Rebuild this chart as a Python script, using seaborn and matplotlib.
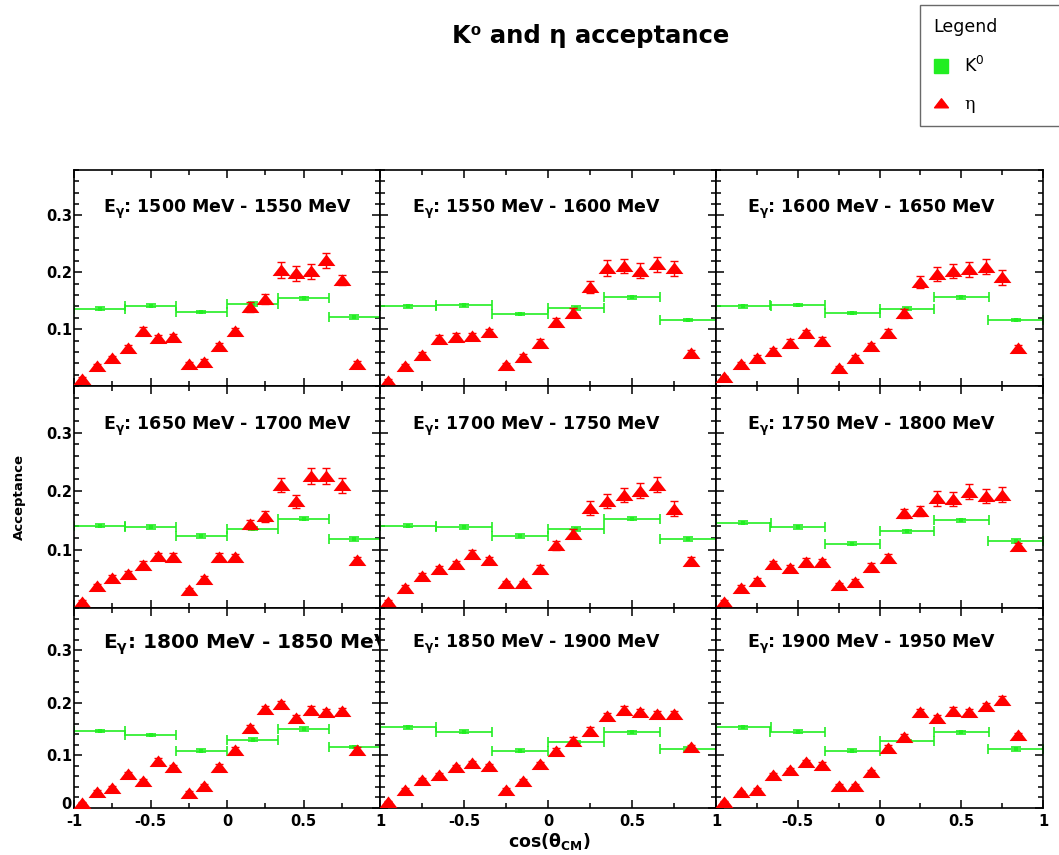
import matplotlib
matplotlib.use("Agg")
import matplotlib.pyplot as plt
import seaborn as sns
import pandas as pd
from matplotlib.path import Path
from matplotlib.lines import Line2D
from matplotlib.ticker import MultipleLocator

# ---------------- data ----------------
energy_bins = [
    "1500 MeV - 1550 MeV", "1550 MeV - 1600 MeV", "1600 MeV - 1650 MeV",
    "1650 MeV - 1700 MeV", "1700 MeV - 1750 MeV", "1750 MeV - 1800 MeV",
    "1800 MeV - 1850 MeV", "1850 MeV - 1900 MeV", "1900 MeV - 1950 MeV",
]

# cos(theta_CM) bin centres
eta_cos = [-0.95, -0.85, -0.75, -0.65, -0.55, -0.45, -0.35, -0.25, -0.15, -0.05,
           0.05, 0.15, 0.25, 0.35, 0.45, 0.55, 0.65, 0.75, 0.85]
k0_cos = [-0.8333, -0.5, -0.1667, 0.1667, 0.5, 0.8333]
k0_half_width = [0.1667, 0.1667, 0.1667, 0.1667, 0.1667, 0.1667]

# eta acceptance per photon-energy bin
eta_1500 = [0.012, 0.035, 0.049, 0.067, 0.097, 0.084, 0.086, 0.038, 0.043, 0.070,
            0.096, 0.139, 0.153, 0.204, 0.198, 0.202, 0.221, 0.187, 0.039]
eta_1550 = [0.009, 0.035, 0.055, 0.083, 0.087, 0.088, 0.095, 0.037, 0.051, 0.076,
            0.112, 0.129, 0.174, 0.207, 0.211, 0.203, 0.214, 0.207, 0.058]
eta_1600 = [0.015, 0.039, 0.049, 0.062, 0.076, 0.093, 0.080, 0.031, 0.050, 0.070,
            0.094, 0.128, 0.183, 0.197, 0.202, 0.205, 0.210, 0.191, 0.066]
eta_1650 = [0.010, 0.037, 0.051, 0.058, 0.074, 0.089, 0.088, 0.030, 0.049, 0.088,
            0.087, 0.143, 0.157, 0.211, 0.183, 0.226, 0.226, 0.210, 0.082]
eta_1700 = [0.010, 0.035, 0.055, 0.067, 0.075, 0.093, 0.082, 0.042, 0.042, 0.067,
            0.107, 0.127, 0.171, 0.183, 0.194, 0.201, 0.211, 0.170, 0.081]
eta_1750 = [0.010, 0.035, 0.047, 0.075, 0.068, 0.079, 0.078, 0.039, 0.045, 0.071,
            0.086, 0.162, 0.166, 0.188, 0.186, 0.199, 0.191, 0.194, 0.106]
eta_1800 = [0.009, 0.031, 0.038, 0.065, 0.052, 0.090, 0.077, 0.029, 0.042, 0.078,
            0.110, 0.152, 0.188, 0.198, 0.171, 0.187, 0.183, 0.184, 0.111]
eta_1850 = [0.011, 0.035, 0.054, 0.063, 0.077, 0.085, 0.079, 0.035, 0.051, 0.083,
            0.109, 0.128, 0.147, 0.174, 0.187, 0.183, 0.178, 0.178, 0.115]
eta_1900 = [0.011, 0.030, 0.035, 0.063, 0.072, 0.087, 0.082, 0.042, 0.042, 0.068,
            0.114, 0.135, 0.183, 0.171, 0.185, 0.182, 0.194, 0.206, 0.138]

# statistical uncertainties on the eta acceptance
eta_err_1500 = [0.003, 0.004, 0.004, 0.005, 0.006, 0.006, 0.006, 0.004, 0.004, 0.005,
                0.006, 0.008, 0.009, 0.014, 0.013, 0.013, 0.013, 0.009, 0.005]
eta_err_1550 = [0.003, 0.004, 0.005, 0.006, 0.006, 0.006, 0.006, 0.004, 0.005, 0.006,
                0.007, 0.008, 0.010, 0.014, 0.013, 0.013, 0.013, 0.013, 0.006]
eta_err_1600 = [0.003, 0.004, 0.005, 0.005, 0.006, 0.006, 0.006, 0.004, 0.005, 0.006,
                0.007, 0.008, 0.010, 0.012, 0.012, 0.013, 0.013, 0.013, 0.006]
eta_err_1650 = [0.003, 0.004, 0.005, 0.005, 0.006, 0.006, 0.006, 0.004, 0.005, 0.006,
                0.006, 0.008, 0.009, 0.012, 0.011, 0.013, 0.013, 0.013, 0.006]
eta_err_1700 = [0.003, 0.004, 0.005, 0.005, 0.006, 0.006, 0.006, 0.004, 0.005, 0.006,
                0.007, 0.008, 0.012, 0.012, 0.012, 0.013, 0.013, 0.013, 0.006]
eta_err_1750 = [0.003, 0.004, 0.005, 0.005, 0.006, 0.006, 0.006, 0.004, 0.005, 0.006,
                0.007, 0.008, 0.009, 0.013, 0.012, 0.013, 0.012, 0.013, 0.006]
eta_err_1800 = [0.002, 0.003, 0.003, 0.004, 0.004, 0.005, 0.005, 0.003, 0.004, 0.005,
                0.005, 0.006, 0.006, 0.006, 0.006, 0.006, 0.006, 0.006, 0.005]
eta_err_1850 = [0.002, 0.003, 0.003, 0.004, 0.004, 0.005, 0.005, 0.003, 0.004, 0.005,
                0.005, 0.006, 0.006, 0.006, 0.006, 0.006, 0.006, 0.006, 0.005]
eta_err_1900 = [0.002, 0.003, 0.003, 0.004, 0.004, 0.005, 0.005, 0.003, 0.004, 0.005,
                0.005, 0.006, 0.006, 0.006, 0.006, 0.006, 0.006, 0.006, 0.005]

# K0 acceptance per photon-energy bin
k0_1500 = [0.136, 0.1415, 0.130, 0.144, 0.154, 0.1215]
k0_1550 = [0.140, 0.142, 0.127, 0.137, 0.156, 0.116]
k0_1600 = [0.140, 0.142, 0.128, 0.136, 0.156, 0.116]
k0_1650 = [0.141, 0.139, 0.123, 0.136, 0.153, 0.118]
k0_1700 = [0.141, 0.139, 0.123, 0.135, 0.153, 0.118]
k0_1750 = [0.146, 0.139, 0.110, 0.131, 0.150, 0.115]
k0_1800 = [0.147, 0.138, 0.109, 0.130, 0.150, 0.116]
k0_1850 = [0.153, 0.145, 0.109, 0.126, 0.144, 0.112]
k0_1900 = [0.153, 0.145, 0.109, 0.127, 0.144, 0.112]

k0_err_1500 = [0.003, 0.003, 0.002, 0.003, 0.003, 0.003]
k0_err_1550 = [0.003, 0.003, 0.002, 0.003, 0.003, 0.002]
k0_err_1600 = [0.003, 0.002, 0.002, 0.003, 0.003, 0.002]
k0_err_1650 = [0.003, 0.003, 0.003, 0.003, 0.003, 0.003]
k0_err_1700 = [0.003, 0.003, 0.003, 0.003, 0.003, 0.003]
k0_err_1750 = [0.003, 0.003, 0.003, 0.002, 0.003, 0.003]
k0_err_1800 = [0.002, 0.002, 0.003, 0.003, 0.003, 0.002]
k0_err_1850 = [0.002, 0.003, 0.003, 0.002, 0.003, 0.003]
k0_err_1900 = [0.002, 0.003, 0.003, 0.002, 0.003, 0.003]

eta_sets = [eta_1500, eta_1550, eta_1600, eta_1650, eta_1700, eta_1750,
            eta_1800, eta_1850, eta_1900]
eta_err_sets = [eta_err_1500, eta_err_1550, eta_err_1600, eta_err_1650,
                eta_err_1700, eta_err_1750, eta_err_1800, eta_err_1850,
                eta_err_1900]
k0_sets = [k0_1500, k0_1550, k0_1600, k0_1650, k0_1700, k0_1750,
           k0_1800, k0_1850, k0_1900]
k0_err_sets = [k0_err_1500, k0_err_1550, k0_err_1600, k0_err_1650, k0_err_1700,
               k0_err_1750, k0_err_1800, k0_err_1850, k0_err_1900]

y_ticks = [0.0, 0.1, 0.2, 0.3]
x_ticks = [-1.0, -0.5, 0.0, 0.5, 1.0]
x_tick_labels = ["-1", "-0.5", "0", "0.5", "1"]

# ---------------- style ----------------
sns.set_theme(style="ticks", rc={
    "axes.edgecolor": "black",
    "axes.linewidth": 1.2,
    "text.color": "black",
    "xtick.color": "black",
    "ytick.color": "black",
    "axes.facecolor": "white",
    "figure.facecolor": "white",
})
plt.rcParams["font.family"] = ["DejaVu Sans"]
plt.rcParams["mathtext.fontset"] = "dejavusans"

GREEN = "#22ee22"
RED = "#ff0000"

# flat triangle used for the eta points
tri_marker = Path([(-1.0, -0.62), (1.0, -0.62), (0.0, 0.68), (-1.0, -0.62)],
                  [Path.MOVETO, Path.LINETO, Path.LINETO, Path.CLOSEPOLY])

W, H = 1059, 855
fig = plt.figure(figsize=(W / 100, H / 100), dpi=100)

col_px = [(74, 380), (380, 716), (716, 1043)]
row_px = [(170, 386), (386, 608), (608, 808)]

for i, label in enumerate(energy_bins):
    r, c = divmod(i, 3)
    x0, x1 = col_px[c]
    y0, y1 = row_px[r]
    ax = fig.add_axes([x0 / W, 1 - y1 / H, (x1 - x0) / W, (y1 - y0) / H])
    ax.set_xlim(-1, 1)
    ax.set_ylim(0, 0.38)

    k0_df = pd.DataFrame({"cos": k0_cos, "acc": k0_sets[i],
                          "err": k0_err_sets[i], "hw": k0_half_width})
    eta_df = pd.DataFrame({"cos": eta_cos, "acc": eta_sets[i],
                           "err": eta_err_sets[i]})

    # K0: bin-width horizontal bars with small vertical uncertainties
    ax.errorbar(k0_df["cos"], k0_df["acc"], xerr=k0_df["hw"], yerr=k0_df["err"],
                fmt="none", ecolor=GREEN, elinewidth=1.2, capsize=3.3,
                capthick=1.2, zorder=2)
    sns.scatterplot(data=k0_df, x="cos", y="acc", ax=ax, marker="s", s=10,
                    color=GREEN, edgecolor=GREEN, linewidth=0, zorder=3,
                    legend=False)

    # eta points
    ax.errorbar(eta_df["cos"], eta_df["acc"], yerr=eta_df["err"], fmt="none",
                ecolor=RED, elinewidth=1.0, capsize=3.2, capthick=1.0,
                zorder=4, clip_on=False)
    sns.scatterplot(data=eta_df, x="cos", y="acc", ax=ax, marker=tri_marker,
                    s=165, color=RED, edgecolor=RED, linewidth=0, zorder=5,
                    legend=False, clip_on=False)

    ax.set_xlabel("")
    ax.set_ylabel("")

    # ticks on all four sides, pointing inwards
    ax.xaxis.set_minor_locator(MultipleLocator(0.25))
    ax.yaxis.set_minor_locator(MultipleLocator(0.02))
    ax.tick_params(which="both", direction="in", top=True, right=True,
                   width=1.1)
    ax.tick_params(which="major", length=6)
    ax.tick_params(which="minor", length=3.5)
    ax.tick_params(axis="x", pad=4)

    if c == 0:
        ax.set_yticks(y_ticks, labels=["", "0.1", "0.2", "0.3"])
        ax.tick_params(axis="y", pad=1.5)
        for t in ax.get_yticklabels():
            t.set_fontweight("bold")
            t.set_fontsize(10.5)
        if r == 2:
            # zero label sits just above the x-axis corner
            ax.annotate("0", xy=(0, 0), xycoords="axes fraction",
                        xytext=(-1.5, 2.5), textcoords="offset points",
                        ha="right", va="center", fontsize=10.5,
                        fontweight="bold")
    else:
        ax.set_yticks(y_ticks, labels=[""] * len(y_ticks))

    if r == 2:
        xl = list(x_tick_labels)
        if c > 0:
            xl[0] = ""
        ax.set_xticks(x_ticks, labels=xl)
        for t in ax.get_xticklabels():
            t.set_fontweight("bold")
            t.set_fontsize(10.5)
    else:
        ax.set_xticks(x_ticks, labels=[""] * len(x_ticks))

    size = 14.5 if i == 6 else 12.5
    ax.text(0.095, 0.31 / 0.38, r"$\mathbf{E_{\gamma}}$: " + label,
            transform=ax.transAxes, ha="left", va="center",
            fontsize=size, fontweight="bold", zorder=6)

# global labels
fig.text(591 / W, 1 - 36 / H, "K\u2070 and \u03b7 acceptance", ha="center",
         va="center", fontsize=17.5, fontweight="bold")
fig.text(19 / W, 1 - 497 / H, "Acceptance", rotation=90, ha="center",
         va="center", fontsize=9.5, fontweight="bold")
fig.text(549 / W, 1 - 841 / H, r"cos($\mathbf{\theta_{CM}}$)", ha="center",
         va="center", fontsize=12.5, fontweight="bold")

# legend box
handles = [
    Line2D([], [], marker="s", color=GREEN, linestyle="none", markersize=10),
    Line2D([], [], marker=tri_marker, color=RED, linestyle="none",
           markersize=10),
]
leg = fig.legend(handles, [r"K$^{0}$", "\u03b7"], title="Legend",
                 loc="upper left",
                 bbox_to_anchor=(920 / W, 1 - 124 / H, 150 / W, 119 / H),
                 mode="expand", frameon=True, fancybox=False,
                 edgecolor="#444444", fontsize=12.5, title_fontsize=12.5,
                 alignment="left", handlelength=0.9, handletextpad=0.9,
                 labelspacing=1.15, borderpad=0.75, borderaxespad=0)
leg.get_frame().set_linewidth(1.0)
leg.get_texts()[1].set_family("DejaVu Serif")

fig.savefig("out.png", dpi=100, facecolor="white")
